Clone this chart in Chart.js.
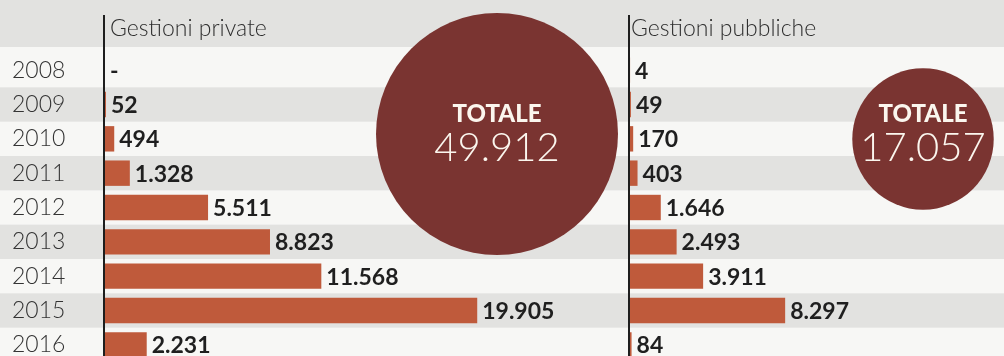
<!DOCTYPE html>
<html>
<head>
<meta charset="utf-8">
<script src="https://cdn.jsdelivr.net/npm/chart.js@4.4.1/dist/chart.umd.min.js"></script>
<style>
  html, body { margin: 0; padding: 0; width: 1004px; height: 356px; overflow: hidden; background: #f7f7f5; }
  .wrap { position: absolute; top: 0; height: 362px; }
  #left { left: 0; width: 620px; }
  #right { left: 620px; width: 384px; }
</style>
</head>
<body>
<div class="wrap" id="left"><canvas id="chartPrivate"></canvas></div>
<div class="wrap" id="right"><canvas id="chartPublic"></canvas></div>
<script>
// dati
const years = ['2008', '2009', '2010', '2011', '2012', '2013', '2014', '2015', '2016'];
const privateValues = [0, 52, 494, 1328, 5511, 8823, 11568, 19905, 2231];
const publicValues = [4, 49, 170, 403, 1646, 2493, 3911, 8297, 84];
const titles = ['Gestioni private', 'Gestioni pubbliche'];
const totalLabel = 'TOTALE';

const BAR = '#bf5a3b';
const CIRCLE = '#7a3431';
const GRAY = '#e2e2e0';
const PX_PER_UNIT = 0.0187;

function fmt(v) {
    if (v === 0) return '-';
    return String(v).replace(/\B(?=(\d{3})+(?!\d))/g, '.');
}

const sum = arr => arr.reduce((a, b) => a + b, 0);

// strisce, asse, titolo, etichette e cerchio del totale
function panelPlugin(opts) {
    return {
        id: 'panel',
        beforeDraw(chart) {
            const ctx = chart.ctx;
            const y = chart.scales.y;
            const band = (y.bottom - y.top) / years.length;
            ctx.save();
            ctx.fillStyle = '#f7f7f5';
            ctx.fillRect(0, 0, chart.width, chart.height);
            ctx.fillStyle = GRAY;
            ctx.fillRect(0, 0, chart.width, y.top - 6);
            years.forEach((yr, i) => {
                if (i % 2 === 1) {
                    const c = y.getPixelForValue(i);
                    ctx.fillRect(0, c - band / 2, chart.width, band);
                }
            });
            ctx.restore();
        },
        afterDatasetsDraw(chart) {
            const ctx = chart.ctx;
            const area = chart.chartArea;
            const meta = chart.getDatasetMeta(0);
            const data = chart.data.datasets[0].data;
            ctx.save();
            // asse verticale
            ctx.strokeStyle = '#1e1e1e';
            ctx.lineWidth = 2;
            ctx.beginPath();
            ctx.moveTo(area.left - 1, 15);
            ctx.lineTo(area.left - 1, chart.height);
            ctx.stroke();
            // titolo
            ctx.fillStyle = '#2e2e2e';
            ctx.font = '300 23px Lato';
            ctx.textBaseline = 'middle';
            ctx.textAlign = 'left';
            ctx.fillText(opts.title, area.left + opts.titleOffset, 29);
            // valori
            ctx.fillStyle = '#1f1f1f';
            ctx.font = 'bold 23px Lato';
            meta.data.forEach((bar, i) => {
                ctx.fillText(fmt(data[i]), bar.x + 5, bar.y + 1);
            });
            // cerchio totale
            const total = sum(data);
            const r = 0.5416 * Math.sqrt(total);
            ctx.fillStyle = CIRCLE;
            ctx.beginPath();
            ctx.arc(opts.cx, opts.cy, r, 0, Math.PI * 2);
            ctx.fill();
            ctx.fillStyle = '#fbf6ee';
            ctx.textAlign = 'center';
            ctx.font = '900 24px Lato';
            ctx.fillText(totalLabel, opts.cx, 114);
            ctx.font = '300 40px Lato';
            ctx.fillText(fmt(total), opts.cx, 148);
            ctx.restore();
        }
    };
}

function makeChart(id, values, opts) {
    const ctx = document.getElementById(id).getContext('2d');
    return new Chart(ctx, {
        type: 'bar',
        data: {
            labels: years,
            datasets: [{
                data: values,
                backgroundColor: BAR,
                borderWidth: 0,
                barPercentage: 0.74,
                categoryPercentage: 1
            }]
        },
        options: {
            indexAxis: 'y',
            responsive: true,
            maintainAspectRatio: false,
            animation: false,
            layout: { padding: opts.padding },
            plugins: { legend: { display: false }, tooltip: { enabled: false } },
            scales: {
                x: { display: false, min: 0, max: opts.max },
                y: {
                    display: opts.showYears,
                    grid: { display: false },
                    border: { display: false },
                    ticks: {
                        crossAlign: 'far',
                        color: '#333',
                        font: { family: 'Lato', size: 23, weight: '300' },
                        padding: 0
                    },
                    afterFit: s => {
                        if (opts.showYears) s.width = 93;
                        s.paddingTop = 0;
                        s.paddingBottom = 0;
                    }
                }
            }
        },
        plugins: [panelPlugin(opts)]
    });
}

makeChart('chartPrivate', privateValues, {
    padding: { left: 12, top: 53, right: 0, bottom: 0 },
    max: 515 / PX_PER_UNIT,
    showYears: true,
    title: titles[0],
    titleOffset: 5,
    cx: 497, cy: 134
});

makeChart('chartPublic', publicValues, {
    padding: { left: 10, top: 53, right: 0, bottom: 0 },
    max: 374 / PX_PER_UNIT,
    showYears: false,
    title: titles[1],
    titleOffset: 1,
    cx: 303, cy: 139
});
</script>
</body>
</html>
